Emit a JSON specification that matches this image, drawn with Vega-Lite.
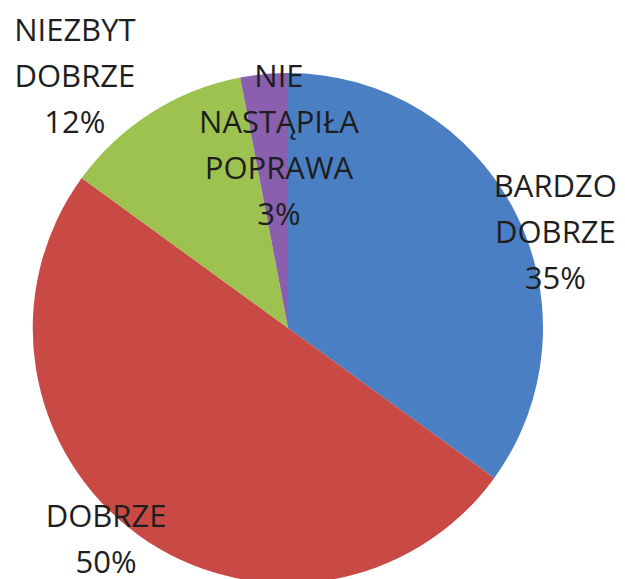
{
  "$schema": "https://vega.github.io/schema/vega-lite/v6.json",
  "width": 576,
  "height": 500,
  "autosize": {"type": "none"},
  "padding": {"left": 0, "top": 78, "right": 49, "bottom": 1},
  "background": "white",
  "config": {"view": {"stroke": null}},
  "data": {
    "values": [
      {"cat": "BARDZO DOBRZE", "value": 35, "rank": 1, "label": "BARDZO\nDOBRZE\n35%"},
      {"cat": "DOBRZE", "value": 50, "rank": 2, "label": "DOBRZE\n50%"},
      {"cat": "NIEZBYT DOBRZE", "value": 12, "rank": 3, "label": "NIEZBYT\nDOBRZE\n12%"},
      {"cat": "NIE NASTĄPIŁA POPRAWA", "value": 3, "rank": 4, "label": "NIE\nNASTĄPIŁA\nPOPRAWA\n3%"}
    ]
  },
  "encoding": {
    "theta": {"field": "value", "type": "quantitative", "stack": true},
    "order": {"field": "rank", "type": "ordinal"}
  },
  "layer": [
    {
      "mark": {"type": "arc", "outerRadius": 255},
      "encoding": {
        "color": {
          "field": "cat",
          "type": "nominal",
          "scale": {
            "domain": ["BARDZO DOBRZE", "DOBRZE", "NIEZBYT DOBRZE", "NIE NASTĄPIŁA POPRAWA"],
            "range": ["#4A80C3", "#C94945", "#9DC24F", "#8A5FAE"]
          },
          "legend": null
        }
      }
    },
    {
      "mark": {"type": "text", "radius": 281, "dx": 17, "dy": -12, "align": "center", "baseline": "middle", "lineBreak": "\n", "lineHeight": 46, "font": "Open Sans", "fontSize": 31, "fill": "#1e1e1e"},
      "encoding": {"text": {"condition": {"test": "datum.cat === 'BARDZO DOBRZE'", "field": "label", "type": "nominal"}, "value": ""}}
    },
    {
      "mark": {"type": "text", "radius": 279, "dx": -18, "dy": -36, "align": "center", "baseline": "middle", "lineBreak": "\n", "lineHeight": 46, "font": "Open Sans", "fontSize": 31, "fill": "#1e1e1e"},
      "encoding": {"text": {"condition": {"test": "datum.cat === 'DOBRZE'", "field": "label", "type": "nominal"}, "value": ""}}
    },
    {
      "mark": {"type": "text", "radius": 325, "dx": -39, "dy": -22, "align": "center", "baseline": "middle", "lineBreak": "\n", "lineHeight": 46, "font": "Open Sans", "fontSize": 31, "fill": "#1e1e1e"},
      "encoding": {"text": {"condition": {"test": "datum.cat === 'NIEZBYT DOBRZE'", "field": "label", "type": "nominal"}, "value": ""}}
    },
    {
      "mark": {"type": "text", "radius": 181, "dx": 8, "dy": -70, "align": "center", "baseline": "middle", "lineBreak": "\n", "lineHeight": 46, "font": "Open Sans", "fontSize": 31, "fill": "#1e1e1e"},
      "encoding": {"text": {"condition": {"test": "datum.cat === 'NIE NASTĄPIŁA POPRAWA'", "field": "label", "type": "nominal"}, "value": ""}}
    }
  ]
}
